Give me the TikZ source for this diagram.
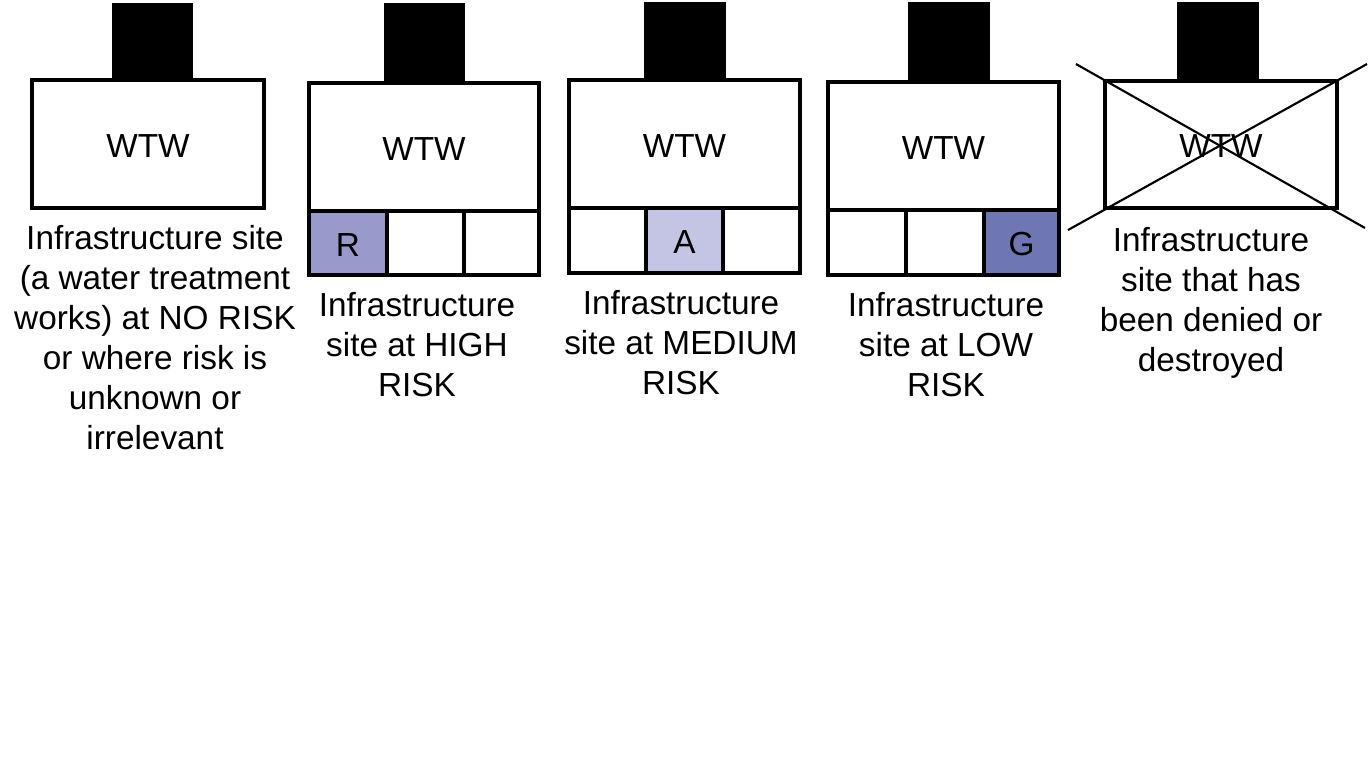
\documentclass[tikz,border=0pt]{standalone}
\usepackage{fontspec}
\setmainfont{Liberation Sans}
\usetikzlibrary{fit}
\definecolor{riskR}{RGB}{153,153,204}
\definecolor{riskA}{RGB}{196,196,228}
\definecolor{riskG}{RGB}{110,118,180}
\begin{document}
\begin{tikzpicture}[x=0.75pt,y=-0.75pt,
  txt/.style={font=\fontsize{25}{30}\selectfont},
  box/.style={draw, line width=3pt, fill=white, inner sep=0pt},
  roof/.style={fill=black, inner sep=0pt},
  word/.style={txt, inner sep=0pt, yshift=-1.5pt},
  lbl/.style={align=center, anchor=north, inner sep=0pt, txt},
  crossline/.style={line width=1.6pt}]
\useasboundingbox[fill=white] (0,0) rectangle (1370,769);
% Panel 1
\node[roof, fit={(112,3) (193,82)}] (r1) {};
\node[box, fit={(32,80) (264,208)}] (b1) {};
\node[word] (t1) at (b1.center) {WTW};
\node[lbl] (l1) at (155,225) {Infrastructure site\\(a water treatment\\works) at NO RISK\\or where risk is\\unknown or\\irrelevant};
% Panel 2
\node[roof, fit={(384,3) (465,84)}] (r2) {};
\node[box, fit={(309,83) (539,211)}] (b2) {};
\node[word] (t2) at (b2.center) {WTW};
\node[box, fill=riskR, fit={(309,211) (387,275)}] (c2a) {};
\node[box, fit={(387,211) (464,275)}] (c2b) {};
\node[box, fit={(464,211) (539,275)}] (c2c) {};
\node[word] (s2) at (c2a.center) {R};
\node[lbl] (l2) at (417,292) {Infrastructure\\site at HIGH\\RISK};
% Panel 3
\node[roof, fit={(644,2) (726,82)}] (r3) {};
\node[box, fit={(569,80) (800,208)}] (b3) {};
\node[word] (t3) at (b3.center) {WTW};
\node[box, fit={(569,208) (646,273)}] (c3a) {};
\node[box, fill=riskA, fit={(646,208) (723,273)}] (c3b) {};
\node[box, fit={(723,208) (800,273)}] (c3c) {};
\node[word] (s3) at (c3b.center) {A};
\node[lbl] (l3) at (681,290) {Infrastructure\\site at MEDIUM\\RISK};
% Panel 4
\node[roof, fit={(908,2) (990,84)}] (r4) {};
\node[box, fit={(828,82) (1059,210)}] (b4) {};
\node[word] (t4) at (b4.center) {WTW};
\node[box, fit={(828,210) (906,275)}] (c4a) {};
\node[box, fit={(906,210) (984,275)}] (c4b) {};
\node[box, fill=riskG, fit={(984,210) (1059,275)}] (c4c) {};
\node[word] (s4) at (c4c.center) {G};
\node[lbl] (l4) at (946,292) {Infrastructure\\site at LOW\\RISK};
% Panel 5
\node[roof, fit={(1177,2) (1259,83)}] (r5) {};
\node[box, fit={(1105,81) (1337,208)}] (b5) {};
\node[word] (t5) at (b5.center) {WTW};
\coordinate (x1a) at (1076,64);
\coordinate (x1b) at (1365,228);
\coordinate (x2a) at (1068,230);
\coordinate (x2b) at (1367,64);
\draw[crossline] (x1a) -- (x1b);
\draw[crossline] (x2a) -- (x2b);
\node[lbl] (l5) at (1211,227) {Infrastructure\\site that has\\been denied or\\destroyed};
\end{tikzpicture}
\end{document}
